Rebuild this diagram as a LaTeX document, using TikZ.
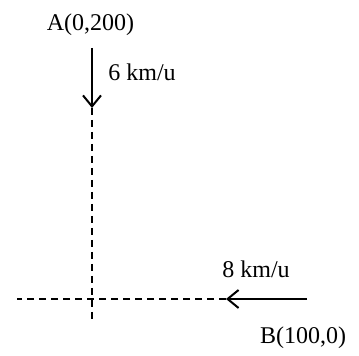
\documentclass[tikz,border=0pt]{standalone}
\usepackage{fontspec}
\setmainfont{Liberation Serif}
\usetikzlibrary{arrows.meta}
\tikzset{
  speed/.style={-{Straight Barb[length=5.5pt,width=9pt]},line width=1pt},
  track/.style={line width=0.6pt,dash pattern=on 3.5pt off 2.5pt},
  lbl/.style={inner sep=0pt,font=\fontsize{12}{14}\selectfont}
}

\begin{document}
\begin{tikzpicture}[x=0.5pt,y=0.5pt]
    \useasboundingbox (0,0) rectangle (359,356);
    % punten en snelheden
    \node[lbl] (A) at (90.5,331) {A(0,200)};
    \node[lbl] (B) at (303,18) {B(100,0)};
    \node[lbl,anchor=west] (vA) at (108,284) {6 km/u};
    \node[lbl,anchor=west] (vB) at (222,87) {8 km/u};
    \coordinate (Astart) at (92,308);
    \coordinate (Aend) at (92,248);
    \coordinate (Bstart) at (307,57);
    \coordinate (Bend) at (226,57);
    \coordinate (Vlow) at (92,34);
    \coordinate (Hleft) at (17,57);
    \draw[speed] (Astart)--(Aend);
    \draw[speed] (Bstart)--(Bend);
    \draw[track] (Aend)--(Vlow);
    \draw[track] (Bend)--(Hleft);
\end{tikzpicture}
\end{document}
